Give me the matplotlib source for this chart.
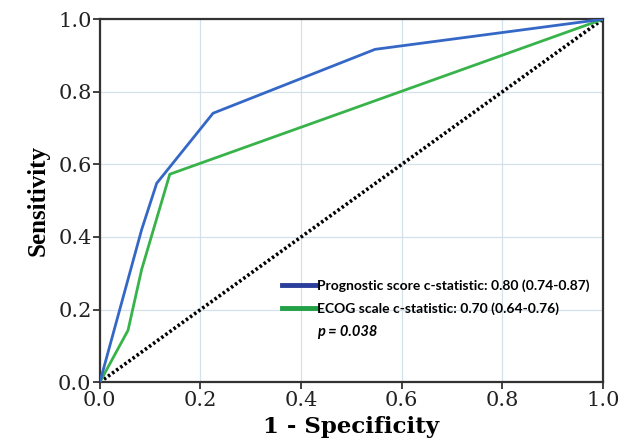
import matplotlib.pyplot as plt
from matplotlib.lines import Line2D

# ROC curves
prog_fpr = [0.0, 0.083, 0.113, 0.225, 0.547, 1.0]
prog_tpr = [0.0, 0.42, 0.548, 0.741, 0.917, 1.0]
ecog_fpr = [0.0, 0.056, 0.083, 0.139, 1.0]
ecog_tpr = [0.0, 0.143, 0.31, 0.573, 1.0]
ref_line = [0.0, 1.0]

ticks = [0.0, 0.2, 0.4, 0.6, 0.8, 1.0]
tick_labels = ["0.0", "0.2", "0.4", "0.6", "0.8", "1.0"]
legend_labels = ["Prognostic score c-statistic: 0.80 (0.74-0.87)",
                 "ECOG scale c-statistic: 0.70 (0.64-0.76)"]
p_text = "p = 0.038"

BLUE = "#3568c6"
GREEN = "#37b34a"

fig = plt.figure(figsize=(6.36, 4.47), dpi=100)
fig.patch.set_facecolor("white")
ax = fig.add_axes([0.157, 0.145, 0.791, 0.812])

ax.grid(True, color="#d3e2ea", linewidth=0.9, zorder=0)
ax.plot(ref_line, ref_line, color="black", linestyle=(0, (0.7, 0.7)), linewidth=2.6, zorder=2)
ax.plot(ecog_fpr, ecog_tpr, color=GREEN, linewidth=2.0, zorder=3)
ax.plot(prog_fpr, prog_tpr, color=BLUE, linewidth=2.0, zorder=4)

ax.set_xlim(0, 1)
ax.set_ylim(0, 1)
ax.set_xticks(ticks)
ax.set_yticks(ticks)
ax.set_xticklabels(tick_labels, family="DejaVu Serif", fontsize=15, color="#222222")
ax.set_yticklabels(tick_labels, family="DejaVu Serif", fontsize=15, color="#222222")
ax.tick_params(direction="out", length=5, width=1.3, color="#333333", pad=1)
for s in ax.spines.values():
    s.set_linewidth(1.6)
    s.set_color("#333333")

ax.set_xlabel("1 - Specificity", family="DejaVu Serif", fontweight="bold", fontsize=16.5, labelpad=5)
ax.set_ylabel("Sensitivity", family="Liberation Serif", fontweight="bold", fontsize=18, labelpad=6)

handles = [Line2D([0], [0], color="#2b3e9a", linewidth=3.5),
           Line2D([0], [0], color="#22a046", linewidth=3.5)]
leg = ax.legend(handles, legend_labels, loc="upper left", bbox_to_anchor=(0.352, 0.298),
                frameon=False, handlelength=2.4, handletextpad=0.1, labelspacing=0.75,
                borderaxespad=0, prop={"family": "Lato", "weight": "bold", "size": 10})
ax.text(0.431, 0.138, p_text, transform=ax.transAxes, family="Lato", fontweight="bold",
        style="italic", fontsize=10.5, va="center", ha="left")

fig.savefig("out.png", dpi=100)
